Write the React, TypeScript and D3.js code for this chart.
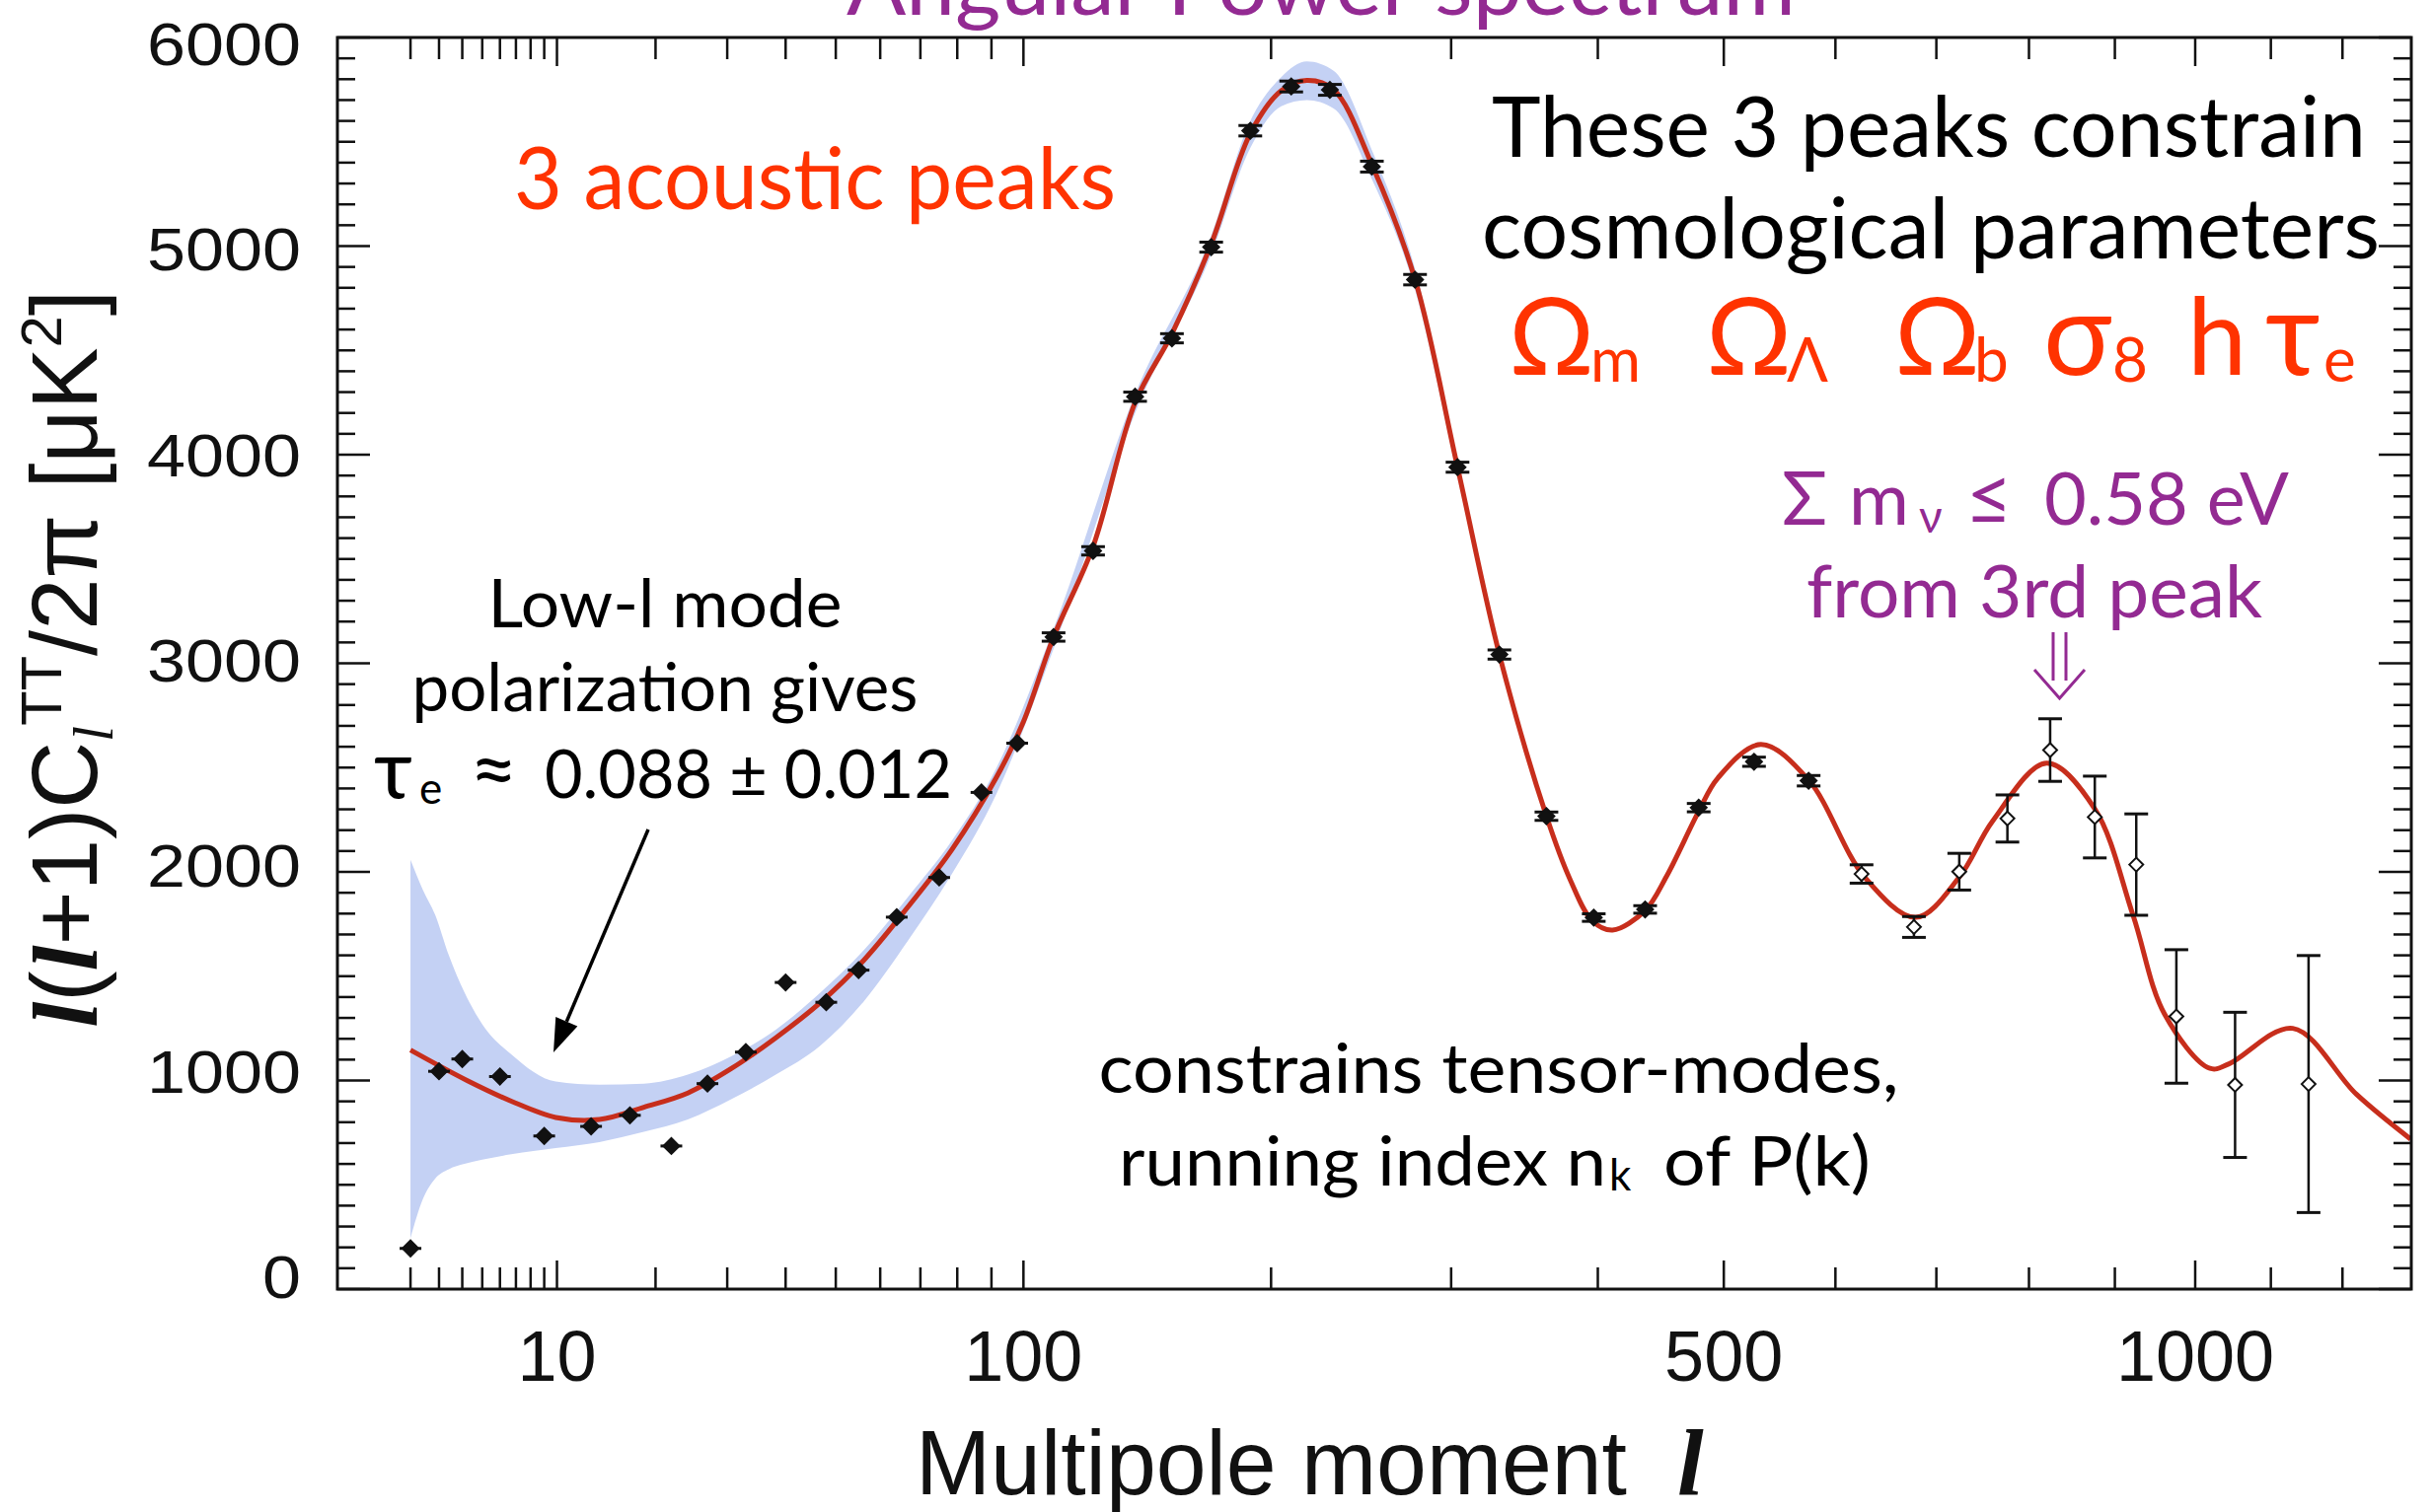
import React from 'react';
import * as d3 from 'd3';

const W = 2465;
const H = 1533;

// Data points (binned multipoles), values l(l+1)C_l/2π [μK²], error half-widths
const ptL = [2, 3, 4, 6, 9, 13, 17, 22, 27, 33, 40, 48, 55, 64, 75, 87, 98, 110, 124, 140, 155, 172, 190, 210, 230, 253, 278, 304, 331, 363, 397, 436, 479, 526, 575, 625, 677, 724, 776, 824, 876, 926, 976, 1052, 1152];
const ptV = [195, 1044, 1103, 1019, 734, 780, 833, 686, 985, 1136, 1470, 1375, 1529, 1783, 1973, 2381, 2617, 3126, 3539, 4278, 4558, 4995, 5553, 5765, 5749, 5381, 4839, 3940, 3042, 2267, 1781, 1820, 2308, 2528, 2437, 1990, 1736, 2001, 2256, 2584, 2263, 2035, 1307, 979, 983];
const ptErr = [0, 0, 0, 0, 0, 0, 0, 0, 0, 0, 0, 0, 0, 0, 0, 0, 0, 20, 20, 22, 22, 24, 25, 26, 26, 26, 25, 24, 22, 20, 18, 18, 20, 22, 25, 44, 50, 88, 113, 150, 196, 243, 320, 348, 616];

// Best-fit model curve
const curveL = [2, 4.25, 6.7, 9.9, 13.8, 18.6, 24.2, 30.7, 38.2, 46.7, 56.2, 66.8, 78.5, 91.4, 100, 110, 124, 140, 155, 172, 190, 205, 218, 232, 253, 278, 304, 331, 363, 380, 396, 411, 436, 453, 479, 495, 532, 575, 628, 679, 724, 760, 820, 876, 922, 961, 1019, 1044, 1130, 1220, 1300];
const curveV = [1146, 999, 901, 823, 813, 872, 940, 1058, 1205, 1372, 1577, 1832, 2107, 2450, 2720, 3126, 3560, 4250, 4580, 5010, 5540, 5745, 5794, 5750, 5390, 4840, 3940, 3042, 2267, 1960, 1765, 1721, 1815, 1980, 2290, 2450, 2611, 2440, 1975, 1782, 1975, 2245, 2521, 2302, 1793, 1319, 1058, 1080, 1250, 934, 719];

// Cosmic-variance band
const bandL = [2, 2.4, 2.85, 3.4, 4.1, 5, 6.7, 9.9, 13.8, 18.6, 24.2, 30.7, 38.2, 46.7, 56.2, 66.8, 78.5, 91.4, 110, 140, 172, 190, 205, 218, 232, 253, 278, 304, 331, 363];
const bandHi = [2058, 1915, 1794, 1600, 1423, 1270, 1125, 995, 980, 985, 1028, 1117, 1244, 1420, 1625, 1880, 2150, 2495, 3165, 4290, 5050, 5600, 5810, 5885, 5840, 5460, 4890, 3980, 3070, 2290];
const bandLo = [244, 430, 530, 575, 600, 620, 646, 676, 705, 754, 813, 911, 1028, 1166, 1380, 1670, 1990, 2370, 3070, 4200, 4960, 5470, 5670, 5700, 5660, 5320, 4790, 3900, 3015, 2245];

// Axis ticks
const xMajor = [10, 100, 500, 1000];
const xMinor = [2, 3, 4, 5, 6, 7, 8, 9, 20, 30, 40, 50, 60, 70, 80, 90, 200, 300, 400, 600, 700, 800, 900, 1100, 1200];
const yMajor = [0, 1000, 2000, 3000, 4000, 5000, 6000];
const yMinor = d3.range(0, 6001, 100).filter((v) => v % 1000 !== 0);

const PURPLE = '#932a92';
const RED = '#ff3300';
const SANS = 'Lato, "Noto Sans", sans-serif';
const HELV = '"Liberation Sans", Arial, sans-serif';
const SERIF = '"Liberation Serif", "Times New Roman", serif';

export default function App() {
  const left = 342, right = 2444, top = 38, bottom = 1307;
  const x = d3.scalePow().exponent(0.4).domain([0.447, 1301]).range([left, right]);
  const y = d3.scaleLinear().domain([0, 6000]).range([bottom, top]);
  const yLab = d3.scaleLinear().domain([0, 6000]).range([1316, 66]);

  const curvePts: [number, number][] = curveL.map((l, i) => [l, curveV[i]]);
  const line = d3
    .line<[number, number]>()
    .x((d) => x(d[0]))
    .y((d) => y(d[1]))
    .curve(d3.curveCatmullRom.alpha(0.5));

  const bandPts = bandL.map((l, i) => ({ l, lo: bandLo[i], hi: bandHi[i] }));
  const area = d3
    .area<{ l: number; lo: number; hi: number }>()
    .x((d) => x(d.l))
    .y0((d) => y(d.lo))
    .y1((d) => y(d.hi))
    .curve(d3.curveMonotoneX);

  // arrow for low-l annotation
  const a0 = [657, 841];
  const a1 = [561, 1067];
  const dx = a1[0] - a0[0], dy = a1[1] - a0[1];
  const len = Math.hypot(dx, dy);
  const ux = dx / len, uy = dy / len;
  const hb = [a1[0] - 34 * ux, a1[1] - 34 * uy];
  const px = -uy, py = ux;
  const head = `M${a1[0]},${a1[1]}L${hb[0] + 12 * px},${hb[1] + 12 * py}L${hb[0] - 12 * px},${hb[1] - 12 * py}Z`;

  return (
    <svg
      width={W}
      height={H}
      viewBox={`0 0 ${W} ${H}`}
      style={{ position: 'absolute', left: 0, top: 0, display: 'block', background: '#fff' }}
    >
      <rect x={0} y={0} width={W} height={H} fill="#fff" />
      <defs>
        <clipPath id="plotclip">
          <rect x={left} y={top} width={right - left} height={bottom - top + 2} />
        </clipPath>
      </defs>

      {/* title (cut off at top) */}
      <text x={1339} y={15} textAnchor="middle" fontFamily={SANS} fontSize={86} fill={PURPLE} textLength={962} lengthAdjust="spacingAndGlyphs">
        Angular Power spectrum
      </text>

      {/* band and curve */}
      <g clipPath="url(#plotclip)">
        <path d={area(bandPts) || ''} fill="#c4d1f4" />
        <path d={line(curvePts) || ''} fill="none" stroke="#c72e1c" strokeWidth={5} />
      </g>

      {/* data points */}
      <g>
        {ptL.map((l, i) => {
          const cx = x(l);
          const cy = y(ptV[i]);
          const e = ptErr[i];
          const open = l >= 600;
          const r = open ? 7 : 8;
          const yt = y(ptV[i] + e);
          const yb = y(ptV[i] - e);
          return (
            <g key={i}>
              {e > 0 && (
                <>
                  <line x1={cx} x2={cx} y1={yt} y2={yb} stroke="#111" strokeWidth={2.5} />
                  <line x1={cx - 12} x2={cx + 12} y1={yt} y2={yt} stroke="#111" strokeWidth={3} />
                  <line x1={cx - 12} x2={cx + 12} y1={yb} y2={yb} stroke="#111" strokeWidth={3} />
                </>
              )}
              {e === 0 && <line x1={cx - 11} x2={cx + 11} y1={cy} y2={cy} stroke="#111" strokeWidth={3} />}
              <path
                d={`M${cx - r},${cy}L${cx},${cy - r}L${cx + r},${cy}L${cx},${cy + r}Z`}
                fill={open ? '#fff' : '#111'}
                stroke="#111"
                strokeWidth={2}
              />
            </g>
          );
        })}
      </g>

      {/* frame */}
      <rect x={left} y={top} width={right - left} height={bottom - top} fill="none" stroke="#111" strokeWidth={3} />

      {/* ticks */}
      <g stroke="#111" strokeWidth={2.5}>
        {xMinor.map((l) => (
          <g key={'xm' + l}>
            <line x1={x(l)} x2={x(l)} y1={bottom} y2={bottom - 22} />
            <line x1={x(l)} x2={x(l)} y1={top} y2={top + 22} />
          </g>
        ))}
        {xMajor.map((l) => (
          <g key={'xM' + l}>
            <line x1={x(l)} x2={x(l)} y1={bottom} y2={bottom - 29} />
            <line x1={x(l)} x2={x(l)} y1={top} y2={top + 29} />
          </g>
        ))}
        {yMinor.map((v) => (
          <g key={'ym' + v}>
            <line x1={left} x2={left + 18} y1={y(v)} y2={y(v)} />
            <line x1={right} x2={right - 18} y1={y(v)} y2={y(v)} />
          </g>
        ))}
        {yMajor.map((v) => (
          <g key={'yM' + v}>
            <line x1={left} x2={left + 33} y1={y(v)} y2={y(v)} />
            <line x1={right} x2={right - 33} y1={y(v)} y2={y(v)} />
          </g>
        ))}
      </g>

      {/* tick labels */}
      <g fontFamily={HELV} fill="#111">
        {xMajor.map((l) => (
          <text key={'xl' + l} x={x(l)} y={1400} textAnchor="middle" fontSize={72}>
            {l}
          </text>
        ))}
        {yMajor.map((v) => (
          <text
            key={'yl' + v}
            x={305}
            y={yLab(v)}
            textAnchor="end"
            fontSize={62}
            textLength={39 * String(v).length}
            lengthAdjust="spacingAndGlyphs"
          >
            {v}
          </text>
        ))}
      </g>

      {/* axis titles */}
      <text x={928} y={1515} fontFamily={HELV} fontSize={93} fill="#111" textLength={721} lengthAdjust="spacingAndGlyphs">
        Multipole moment
      </text>
      <text x={1700} y={1515} fontFamily={SERIF} fontStyle="italic" fontWeight="bold" fontSize={96} fill="#111">
        l
      </text>

      <text transform="translate(98,668) rotate(-90)" textAnchor="middle" fontFamily={HELV} fontSize={94} fill="#111">
        <tspan fontFamily={SERIF} fontStyle="italic" fontWeight="bold">l</tspan>
        <tspan>(</tspan>
        <tspan fontFamily={SERIF} fontStyle="italic" fontWeight="bold">l</tspan>
        <tspan>+1)C</tspan>
        <tspan fontFamily={SERIF} fontStyle="italic" fontSize={58} dy={16}>l</tspan>
        <tspan fontSize={58} dy={-52}>TT</tspan>
        <tspan dy={36}>/2π [μK</tspan>
        <tspan fontSize={58} dy={-36}>2</tspan>
        <tspan dy={36}>]</tspan>
      </text>

      {/* annotations */}
      <text x={521} y={212} fontFamily={SANS} fontSize={88} fill={RED} textLength={610} lengthAdjust="spacingAndGlyphs">
        3 acoustic peaks
      </text>

      <text x={1512} y={159} fontFamily={SANS} fontSize={86} fill="#000" textLength={886} lengthAdjust="spacingAndGlyphs">
        These 3 peaks constrain
      </text>
      <text x={1502} y={262} fontFamily={SANS} fontSize={86} fill="#000" textLength={910} lengthAdjust="spacingAndGlyphs">
        cosmological parameters
      </text>

      <g fontFamily={SANS} fill={RED}>
        <text x={1529} y={380} fontSize={108}>Ω</text>
        <text x={1612} y={387} fontSize={62}>m</text>
        <text x={1729} y={380} fontSize={108}>Ω</text>
        <text x={1811} y={387} fontSize={62}>Λ</text>
        <text x={1920} y={380} fontSize={108}>Ω</text>
        <text x={2001} y={387} fontSize={62}>b</text>
        <text x={2071} y={380} fontSize={116}>σ</text>
        <text x={2141} y={387} fontSize={62}>8</text>
        <text x={2217} y={380} fontSize={108}>h</text>
        <text x={2296} y={380} fontSize={120}>τ</text>
        <text x={2355} y={387} fontSize={62}>e</text>
      </g>

      <g fontFamily={SANS} fill={PURPLE}>
        <text x={1806} y={532} fontSize={76}>Σ</text>
        <text x={1874} y={532} fontSize={74}>m</text>
        <text x={1945} y={540} fontSize={46}>ν</text>
        <text x={1992} y={532} fontSize={82}>≤</text>
        <text x={2072} y={532} fontSize={74} textLength={248} lengthAdjust="spacingAndGlyphs">0.58 eV</text>
        <text x={1831} y={626} fontSize={74} textLength={462} lengthAdjust="spacingAndGlyphs">from 3rd peak</text>
      </g>
      <path
        d="M2081,641L2081,690M2094,641L2094,690M2062,679L2087.5,708L2113,679"
        fill="none"
        stroke={PURPLE}
        strokeWidth={3}
      />

      <g fontFamily={SANS} fill="#000">
        <text x={674} y={636} fontSize={68} textAnchor="middle" textLength={359} lengthAdjust="spacingAndGlyphs">Low-l mode</text>
        <text x={674} y={721} fontSize={68} textAnchor="middle" textLength={513} lengthAdjust="spacingAndGlyphs">polarization gives</text>
        <text x={379} y={809} fontSize={84}>τ</text>
        <text x={425} y={815} fontSize={44}>e</text>
        <text x={476} y={809} fontSize={84}>≈</text>
        <text x={552} y={809} fontSize={68} textLength={413} lengthAdjust="spacingAndGlyphs">0.088 ± 0.012</text>

        <text x={1519} y={1108} fontSize={70} textAnchor="middle" textLength={811} lengthAdjust="spacingAndGlyphs">constrains tensor-modes,</text>
        <text x={1134} y={1202} fontSize={70} textLength={494} lengthAdjust="spacingAndGlyphs">running index n</text>
        <text x={1631} y={1207} fontSize={44}>k</text>
        <text x={1686} y={1202} fontSize={70} textLength={210} lengthAdjust="spacingAndGlyphs">of P(k)</text>
      </g>

      <line x1={a0[0]} y1={a0[1]} x2={hb[0]} y2={hb[1]} stroke="#000" strokeWidth={3.5} />
      <path d={head} fill="#000" />
    </svg>
  );
}
